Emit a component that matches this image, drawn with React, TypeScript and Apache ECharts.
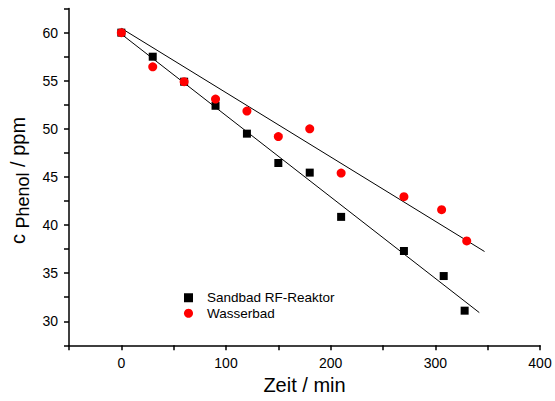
import React, { useEffect, useRef } from 'react';
import * as echarts from 'echarts';

const sandTime = [0, 30, 60, 90, 120, 150, 180, 210, 270, 308, 328];
const sandConc = [60, 57.5, 54.9, 52.4, 49.5, 46.45, 45.45, 40.85, 37.3, 34.7, 31.1];
const wasserTime = [0, 30, 60, 90, 120, 150, 180, 210, 270, 306, 330];
const wasserConc = [60, 56.45, 54.9, 53.1, 51.85, 49.2, 50.0, 45.4, 42.95, 41.6, 38.35];
const sandFitX = [0, 342];
const sandFitY = [59.85, 30.9];
const wasserFitX = [0, 347];
const wasserFitY = [60.45, 37.25];
const seriesNames = ['Sandbad RF-Reaktor', 'Wasserbad'];

const zip = (xs: number[], ys: number[]) => xs.map((x, i) => [x, ys[i]]);

export default function App() {
  const ref = useRef<HTMLDivElement>(null);
  useEffect(() => {
    if (!ref.current) return;
    const chart = echarts.init(ref.current, null, { renderer: 'svg' });
    const font = 'Arial, "Liberation Sans", sans-serif';
    chart.setOption({
      animation: false,
      backgroundColor: '#ffffff',
      grid: { left: 69, right: 15, top: 8.6, bottom: 55.7, containLabel: false, outerBoundsMode: 'none' },
      legend: {
        data: [
          { name: seriesNames[0], icon: 'rect' },
          { name: seriesNames[1], icon: 'circle' },
        ],
        orient: 'vertical',
        left: 179,
        top: 285,
        itemWidth: 9,
        itemHeight: 9,
        itemGap: 0,
        textStyle: { fontFamily: font, fontSize: 13.5, color: '#000', padding: [0, 0, 0, 9], lineHeight: 15.5 },
      },
      xAxis: {
        type: 'value',
        min: -50,
        max: 400,
        interval: 50,
        name: 'Zeit / min',
        nameLocation: 'middle',
        nameGap: 30,
        nameTextStyle: { fontFamily: font, fontSize: 20, color: '#000' },
        axisLine: { show: true, onZero: false, lineStyle: { color: '#000', width: 1.5 } },
        axisTick: { show: true, length: 5, lineStyle: { color: '#000', width: 1.5 } },
        axisLabel: {
          fontFamily: font,
          fontSize: 14,
          color: '#000',
          margin: 11,
          formatter: (v: number) => (v % 100 === 0 ? String(v) : ''),
        },
        splitLine: { show: false },
      },
      yAxis: {
        type: 'value',
        min: 27.5,
        max: 62.5,
        interval: 2.5,
        name: '{c|c} {s|Phenol}{c| / ppm}',
        nameLocation: 'middle',
        nameGap: 38,
        nameTextStyle: {
          fontFamily: font,
          fontSize: 20,
          color: '#000',
          padding: [0, 7, 0, 0],
          rich: {
            c: { fontFamily: font, fontSize: 20, color: '#000', lineHeight: 24 },
            s: { fontFamily: font, fontSize: 18, color: '#000', lineHeight: 24, padding: [9, 0, 0, 0] },
          },
        },
        axisLine: { show: true, onZero: false, lineStyle: { color: '#000', width: 1.5 } },
        axisTick: { show: true, length: 5, lineStyle: { color: '#000', width: 1.5 } },
        axisLabel: {
          fontFamily: font,
          fontSize: 14,
          color: '#000',
          margin: 11,
          formatter: (v: number) => (v % 5 === 0 ? String(v) : ''),
        },
        splitLine: { show: false },
      },
      series: [
        {
          type: 'line',
          data: zip(sandFitX, sandFitY),
          showSymbol: false,
          symbol: 'none',
          lineStyle: { color: '#000', width: 1 },
          silent: true,
          z: 1,
        },
        {
          type: 'line',
          data: zip(wasserFitX, wasserFitY),
          showSymbol: false,
          symbol: 'none',
          lineStyle: { color: '#000', width: 1 },
          silent: true,
          z: 1,
        },
        {
          name: seriesNames[0],
          type: 'scatter',
          symbol: 'rect',
          symbolSize: 8,
          itemStyle: { color: '#000', opacity: 1 },
          data: zip(sandTime, sandConc),
          z: 2,
        },
        {
          name: seriesNames[1],
          type: 'scatter',
          symbol: 'circle',
          symbolSize: 9,
          itemStyle: { color: '#ff0000', opacity: 1 },
          data: zip(wasserTime, wasserConc),
          z: 3,
        },
      ],
    });
    return () => chart.dispose();
  }, []);
  return <div ref={ref} style={{ width: 555, height: 401, position: 'absolute', left: 0, top: 0 }} />;
}
